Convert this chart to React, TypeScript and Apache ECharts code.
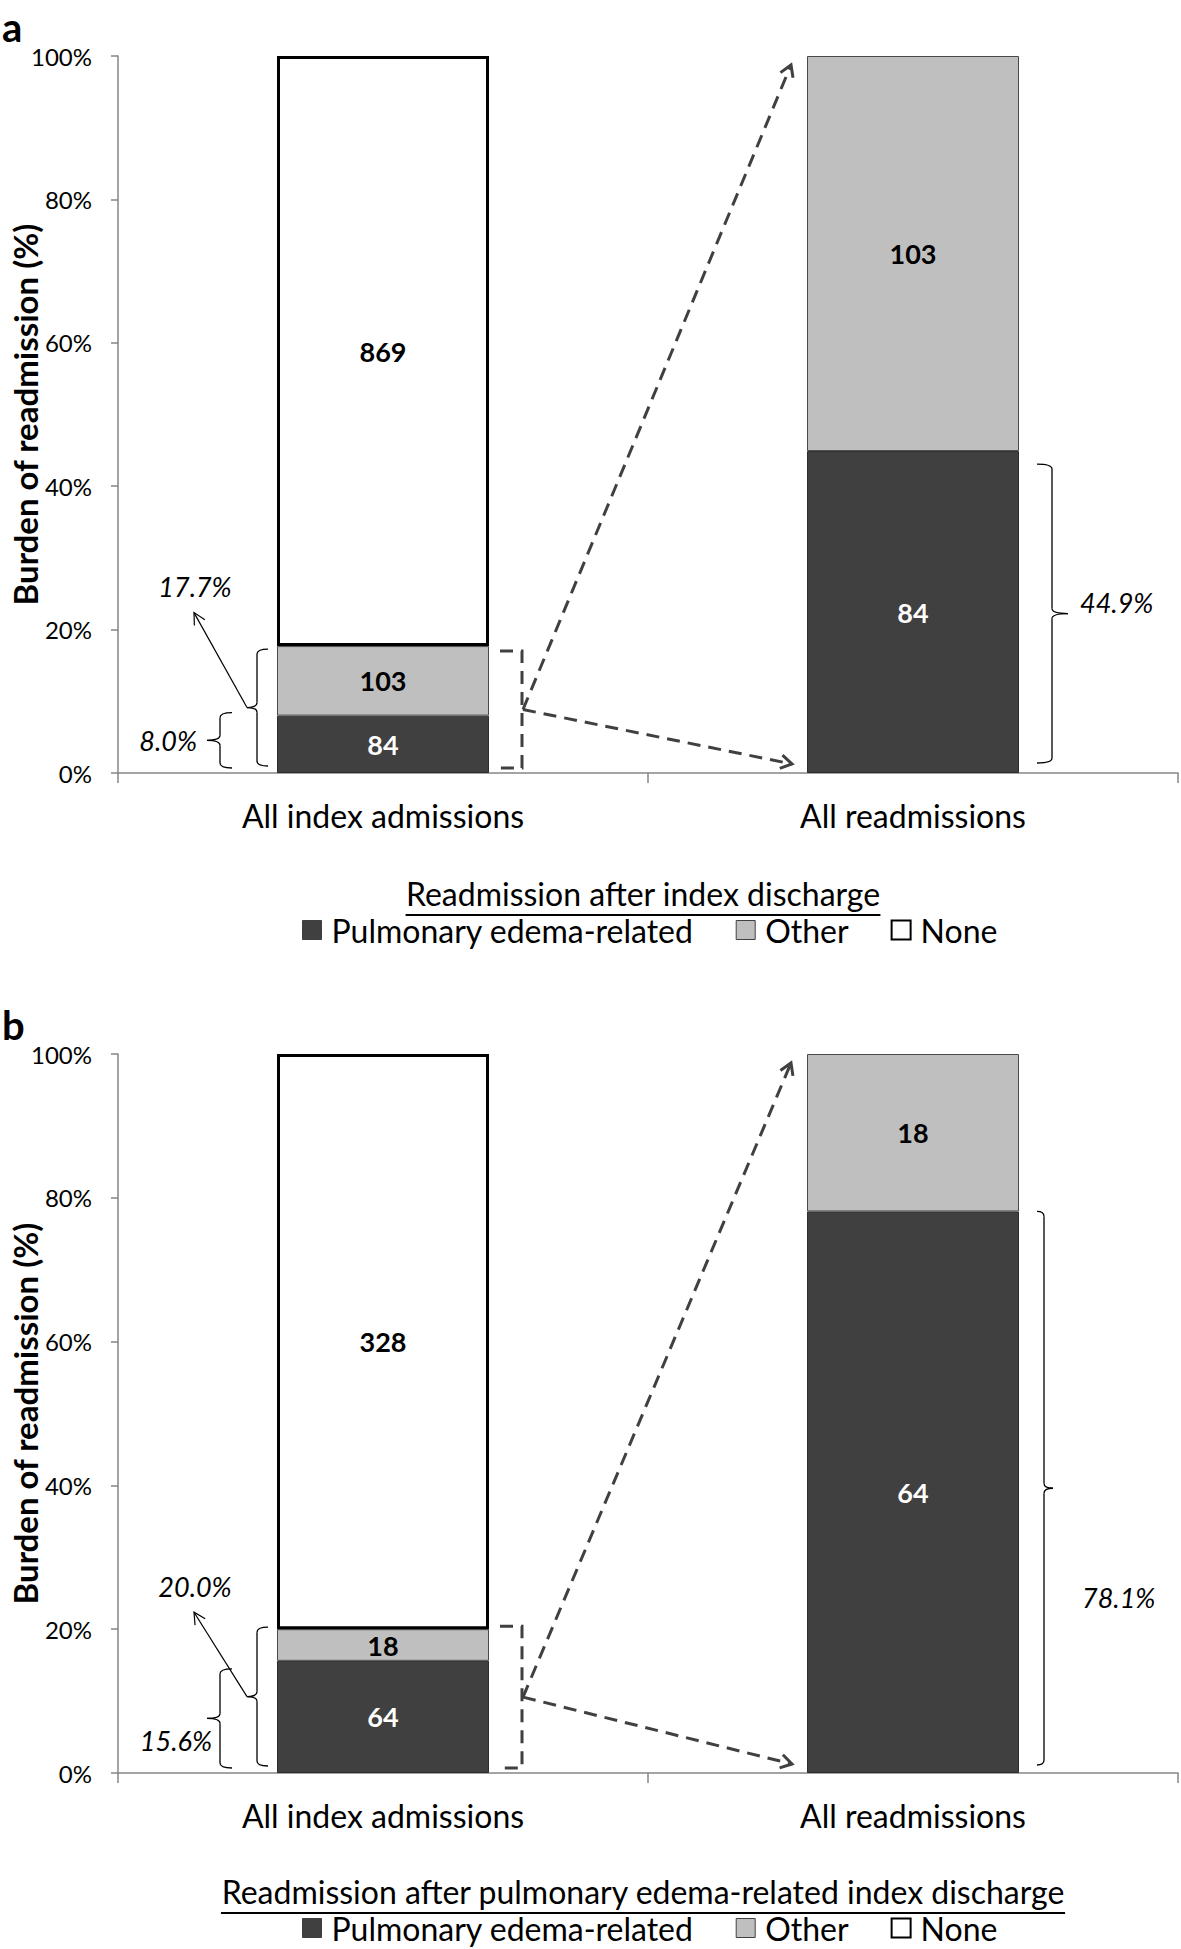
import React, { useEffect, useRef } from 'react';
import * as echarts from 'echarts';

const FONT = 'Lato, "Open Sans", sans-serif';

// ---------- data ----------
const categories = ['All index admissions', 'All readmissions'];
const seriesNames = ['Pulmonary edema-related', 'Other', 'None'];
const panelLetters = ['a', 'b'];
const legendTitles = [
  'Readmission after index discharge',
  'Readmission after pulmonary edema-related index discharge',
];
const yAxisTitle = 'Burden of readmission (%)';

// panel a: share of each bar (%) and counts shown in the segments
const aPulmonaryShare = [8.0, 44.9];
const aOtherShare = [9.7, 55.1];
const aNoneShare = [82.3, null];
const aPulmonaryCount = [84, 84];
const aOtherCount = [103, 103];
const aNoneCount = [869, null];
const aBracePct = [8.0, 17.7, 44.9]; // pulmonary, any readmission, pulmonary among readmissions

// panel b
const bPulmonaryShare = [15.6, 78.1];
const bOtherShare = [4.4, 21.9];
const bNoneShare = [80.0, null];
const bPulmonaryCount = [64, 64];
const bOtherCount = [18, 18];
const bNoneCount = [328, null];
const bBracePct = [15.6, 20.0, 78.1];

const panels = [
  { shares: [aPulmonaryShare, aOtherShare, aNoneShare], counts: [aPulmonaryCount, aOtherCount, aNoneCount], pct: aBracePct },
  { shares: [bPulmonaryShare, bOtherShare, bNoneShare], counts: [bPulmonaryCount, bOtherCount, bNoneCount], pct: bBracePct },
];

// ---------- layout / style ----------
const GRIDS = [
  { left: 118, top: 56, width: 1060, height: 717 },
  { left: 118, top: 1054, width: 1060, height: 719 },
];
const PANEL_OFFSET = 998;
// annotation offsets (pixels) per panel
const ANN = [
  { smallTop: -3, bigTop: 3, bracketTop: 5, smallLabelRight: -80, smallLabelDy: 0,
    rSpine: 33, rEnd: 18, rTip: 49, rTop: 13, rBottom: -10, rLabelLeft: 61, rLabelY: -171 },
  { smallTop: 8, bigTop: -2, bracketTop: -3, smallLabelRight: -65, smallLabelDy: 22,
    rSpine: 25, rEnd: 18, rTip: 34, rTop: 0, rBottom: -8, rLabelLeft: 63, rLabelY: -176 },
];
const COLORS = ['#404040', '#bfbfbf', '#ffffff'];
const BORDERS = ['#2b2b2b', '#4a4a4a', '#000000'];
const BORDER_W = [1, 1, 3];
const LABEL_COLORS = ['#ffffff', '#000000', '#000000'];
const AXIS_COLOR = '#868686';
const DASH_COLOR = '#404040';
const TEXT_SIZE = 32;

function measure(text: string, font: string) {
  const c = document.createElement('canvas').getContext('2d');
  if (!c) return text.length * 14;
  c.font = font;
  return c.measureText(text).width;
}

function brace(spineX: number, endX: number, tipX: number, y0: number, y1: number, lw = 1.3) {
  const tipY = (y0 + y1) / 2;
  const r = Math.min(5, (y1 - y0) / 4);
  const s = { stroke: '#000', lineWidth: lw, fill: 'none' };
  return [
    { type: 'bezierCurve', shape: { x1: endX, y1: y0, cpx1: spineX, cpy1: y0, x2: spineX, y2: y0 + r }, style: s },
    { type: 'line', shape: { x1: spineX, y1: y0 + r, x2: spineX, y2: tipY - r }, style: s },
    { type: 'bezierCurve', shape: { x1: spineX, y1: tipY - r, cpx1: spineX, cpy1: tipY, x2: tipX, y2: tipY }, style: s },
    { type: 'bezierCurve', shape: { x1: tipX, y1: tipY, cpx1: spineX, cpy1: tipY, x2: spineX, y2: tipY + r }, style: s },
    { type: 'line', shape: { x1: spineX, y1: tipY + r, x2: spineX, y2: y1 - r }, style: s },
    { type: 'bezierCurve', shape: { x1: spineX, y1: y1 - r, cpx1: spineX, cpy1: y1, x2: endX, y2: y1 }, style: s },
  ];
}

function arrow(x0: number, y0: number, x1: number, y1: number, color: string, width: number, dash: number[] | null, head: number, ang: number) {
  const a = Math.atan2(y1 - y0, x1 - x0);
  const a1 = a + Math.PI - ang;
  const a2 = a + Math.PI + ang;
  const lineStyle: any = { stroke: color, lineWidth: width, fill: 'none' };
  if (dash) lineStyle.lineDash = dash;
  return [
    { type: 'line', shape: { x1: x0, y1: y0, x2: x1, y2: y1 }, style: lineStyle },
    {
      type: 'polyline',
      shape: { points: [[x1 + head * Math.cos(a1), y1 + head * Math.sin(a1)], [x1, y1], [x1 + head * Math.cos(a2), y1 + head * Math.sin(a2)]] },
      style: { stroke: color, lineWidth: width, fill: 'none' },
    },
  ];
}

function italicText(text: string, x: number, y: number, align: string) {
  return {
    type: 'text', x, y,
    style: { text, fill: '#000', fontFamily: FONT, fontStyle: 'italic', fontSize: 27, textAlign: align, textVerticalAlign: 'middle' },
  };
}

function buildGraphics(chart: any) {
  const els: any[] = [];
  panels.forEach((p, g) => {
    const px = (c: number, v: number) => chart.convertToPixel({ gridIndex: g }, [c, v]) as number[];
    const Y = (v: number) => px(0, v)[1];
    const c0 = px(0, 0)[0];
    const c1 = px(1, 0)[0];
    const half = (c1 - c0) * 0.2;
    const b1L = c0 - half, b1R = c0 + half, b2L = c1 - half, b2R = c1 + half;
    const Y0 = Y(0);
    const o = ANN[g];
    const [pSmall, pBig, pRight] = p.pct;
    const off = g * PANEL_OFFSET;

    // panel letter
    els.push({ type: 'text', x: 2, y: 27 + off, style: { text: panelLetters[g], fill: '#000', fontFamily: FONT, fontWeight: 'bold', fontSize: 40, textAlign: 'left', textVerticalAlign: 'middle' } });
    // y axis title
    const grid = GRIDS[g];
    els.push({ type: 'text', x: 25, y: grid.top + grid.height / 2, rotation: Math.PI / 2, style: { text: yAxisTitle, fill: '#000', fontFamily: FONT, fontWeight: 'bold', fontSize: 33, textAlign: 'center', textVerticalAlign: 'middle' } });

    // small brace (pulmonary share of index admissions)
    const sTop = Y(pSmall) + o.smallTop, sBot = Y0 - 5;
    els.push(...brace(b1L - 57, b1L - 45, b1L - 70, sTop, sBot));
    els.push(italicText(pSmall.toFixed(1) + '%', b1L + o.smallLabelRight, (sTop + sBot) / 2 + o.smallLabelDy, 'right'));

    // big brace (any readmission)
    const bTop = Y(pBig) + o.bigTop, bBot = Y0 - 7;
    els.push(...brace(b1L - 20, b1L - 9, b1L - 30, bTop, bBot));
    const bTipY = (bTop + bBot) / 2;
    els.push(...arrow(b1L - 30, bTipY, b1L - 83, Y(20) - 17, '#000', 1.2, null, 13, 0.48));
    els.push(italicText(pBig.toFixed(1) + '%', b1L - 82, Y(20) - 43, 'center'));

    // dashed bracket right of bar 1
    const dTop = Y(pBig) + o.bracketTop, dBot = Y0 - 5;
    els.push({
      type: 'polyline',
      shape: { points: [[b1R + 11, dTop], [b1R + 33, dTop], [b1R + 33, dBot], [b1R + 11, dBot]] },
      style: { stroke: DASH_COLOR, lineWidth: 3, lineDash: [13, 8], fill: 'none' },
    });
    const oy = (dTop + dBot) / 2;
    els.push(...arrow(b1R + 34, oy, b2L - 16, Y(100) + 9, DASH_COLOR, 3, [13, 8], 13, 0.55));
    els.push(...arrow(b1R + 34, oy, b2L - 15, Y0 - 9, DASH_COLOR, 3, [13, 8], 13, 0.55));

    // right brace on bar 2
    const rTop = Y(pRight) + o.rTop, rBot = Y0 + o.rBottom;
    els.push(...brace(b2R + o.rSpine, b2R + o.rEnd, b2R + o.rTip, rTop, rBot));
    els.push(italicText(pRight.toFixed(1) + '%', b2R + o.rLabelLeft, Y0 + o.rLabelY, 'left'));

    // legend title with underline
    const titleFont = `${TEXT_SIZE}px Lato`;
    const w = measure(legendTitles[g], titleFont);
    const tx = 643;
    const ty = 893 + off;
    els.push({ type: 'text', x: tx, y: ty, style: { text: legendTitles[g], fill: '#000', fontFamily: FONT, fontSize: TEXT_SIZE, textAlign: 'center', textVerticalAlign: 'middle' } });
    els.push({ type: 'line', shape: { x1: tx - w / 2, y1: ty + 22, x2: tx + w / 2, y2: ty + 22 }, style: { stroke: '#000', lineWidth: 2 } });
  });
  return els;
}

export default function App() {
  const ref = useRef<HTMLDivElement>(null);
  useEffect(() => {
    const el = ref.current;
    if (!el) return;
    const chart = echarts.init(el, null, { renderer: 'svg' });

    const series: any[] = [];
    panels.forEach((p, g) => {
      seriesNames.forEach((name, k) => {
        const counts = p.counts[k];
        series.push({
          type: 'bar',
          name,
          xAxisIndex: g,
          yAxisIndex: g,
          stack: 'panel' + g,
          barWidth: '40%',
          data: p.shares[k],
          silent: true,
          itemStyle: { color: COLORS[k], borderColor: BORDERS[k], borderWidth: BORDER_W[k] },
          label: {
            show: true,
            position: 'inside',
            formatter: (prm: any) => (counts[prm.dataIndex] == null ? '' : String(counts[prm.dataIndex])),
            color: LABEL_COLORS[k],
            fontFamily: FONT,
            fontWeight: 'bold',
            fontSize: 27,
          },
        });
      });
    });

    const legendData = seriesNames.map((n, k) => ({
      name: n,
      itemStyle: { color: COLORS[k], borderColor: k === 2 ? '#000' : '#404040', borderWidth: k === 2 ? 2 : 1 },
    }));

    const option: any = {
      animation: false,
      backgroundColor: '#ffffff',
      grid: GRIDS.map((gr) => ({ ...gr, containLabel: false })),
      xAxis: GRIDS.map((_, g) => ({
        type: 'category',
        gridIndex: g,
        data: categories,
        axisLine: { show: true, lineStyle: { color: AXIS_COLOR, width: 1.5 } },
        axisTick: { show: true, length: 10, lineStyle: { color: AXIS_COLOR, width: 1.5 } },
        axisLabel: { color: '#000', fontFamily: FONT, fontSize: TEXT_SIZE, margin: 26 },
      })),
      yAxis: GRIDS.map((_, g) => ({
        type: 'value',
        gridIndex: g,
        min: 0,
        max: 100,
        interval: 20,
        axisLine: { show: true, lineStyle: { color: AXIS_COLOR, width: 1.5 } },
        axisTick: { show: true, length: 7, lineStyle: { color: AXIS_COLOR, width: 1.5 } },
        splitLine: { show: false },
        axisLabel: { color: '#000', fontFamily: FONT, fontSize: 24, margin: 26, formatter: '{value}%' },
      })),
      legend: [0, 1].map((g) => ({
        left: 302,
        top: 914 + g * PANEL_OFFSET,
        padding: 0,
        itemWidth: 19,
        itemHeight: 19,
        itemGap: 42,
        selectedMode: false,
        icon: 'rect',
        data: legendData,
        textStyle: { color: '#000', fontFamily: FONT, fontSize: TEXT_SIZE, padding: [0, 0, 0, 5] },
      })),
      series,
    };

    chart.setOption(option);
    chart.setOption({ graphic: buildGraphics(chart) });
    return () => chart.dispose();
  }, []);

  return (
    <div
      ref={ref}
      style={{ position: 'absolute', left: 0, top: 0, width: 1181, height: 1949, background: '#ffffff' }}
    />
  );
}
